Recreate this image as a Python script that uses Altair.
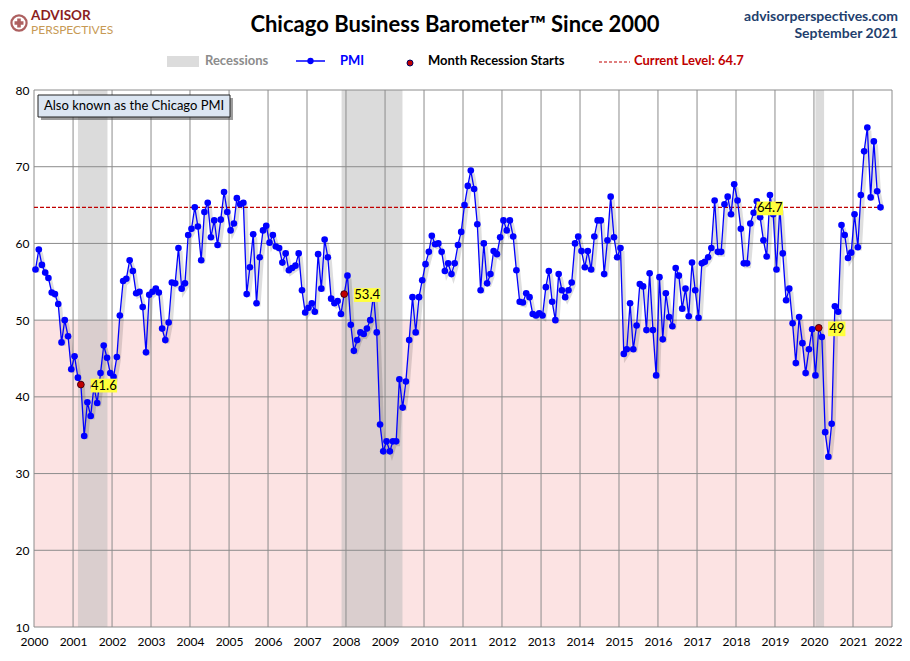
import altair as alt
import pandas as pd

# ---------------- data ----------------
pmi_2000 = [56.6, 59.2, 57.2, 56.2, 55.5, 53.6, 53.4, 52.1, 47.1, 50.0, 47.9, 43.6]
pmi_2001 = [45.3, 42.5, 41.6, 34.9, 39.3, 37.5, 41.3, 39.2, 43.1, 46.7, 45.1, 43.1]
pmi_2002 = [42.6, 45.2, 50.6, 55.1, 55.4, 57.8, 56.4, 53.5, 53.7, 51.7, 45.8, 53.3]
pmi_2003 = [53.7, 54.1, 53.6, 48.9, 47.4, 49.7, 54.9, 54.8, 59.4, 54.1, 54.8, 61.1]
pmi_2004 = [61.9, 64.7, 62.2, 57.8, 64.1, 65.3, 60.8, 63.0, 59.8, 63.1, 66.7, 64.1]
pmi_2005 = [61.7, 62.6, 65.9, 65.1, 65.3, 53.4, 56.9, 61.2, 52.2, 58.2, 61.7, 62.3]
pmi_2006 = [60.1, 61.1, 59.6, 59.4, 57.5, 58.7, 56.5, 56.8, 57.1, 58.7, 53.9, 51.0]
pmi_2007 = [51.6, 52.2, 51.1, 58.6, 54.1, 60.5, 58.2, 52.8, 52.2, 52.5, 50.8, 53.4]
pmi_2008 = [55.8, 49.4, 46.0, 47.4, 48.4, 48.2, 48.9, 50.0, 53.3, 48.4, 36.4, 32.9]
pmi_2009 = [34.2, 32.9, 34.2, 34.2, 42.3, 38.6, 42.0, 47.4, 53.0, 48.4, 53.0, 55.2]
pmi_2010 = [57.3, 58.9, 61.0, 59.9, 60.0, 58.9, 56.4, 57.4, 56.0, 57.4, 59.8, 61.5]
pmi_2011 = [65.0, 67.5, 69.5, 67.1, 62.5, 53.9, 60.0, 54.8, 56.0, 59.0, 58.6, 60.8]
pmi_2012 = [63.0, 61.7, 63.0, 60.9, 56.5, 52.4, 52.3, 53.5, 53.0, 50.8, 50.6, 50.9]
pmi_2013 = [50.6, 54.3, 56.4, 52.4, 50.0, 56.0, 53.9, 53.0, 53.9, 54.9, 60.0, 60.9]
pmi_2014 = [59.0, 56.9, 59.0, 56.6, 60.9, 63.0, 63.0, 56.0, 60.4, 66.1, 60.8, 58.2]
pmi_2015 = [59.4, 45.6, 46.2, 52.2, 46.2, 49.3, 54.7, 54.4, 48.7, 56.1, 48.7, 42.8]
pmi_2016 = [55.6, 47.5, 53.5, 50.4, 49.2, 56.8, 55.8, 51.5, 54.1, 50.5, 57.5, 53.9]
pmi_2017 = [50.3, 57.4, 57.6, 58.2, 59.4, 65.6, 58.9, 58.9, 65.1, 66.1, 63.8, 67.7]
pmi_2018 = [65.6, 61.9, 57.4, 57.4, 62.6, 64.0, 65.5, 63.4, 60.4, 58.3, 66.3, 63.8]
pmi_2019 = [56.6, 64.7, 58.7, 52.6, 54.1, 49.6, 44.4, 50.4, 47.0, 43.1, 46.2, 48.8]
pmi_2020 = [42.8, 49.0, 47.8, 35.4, 32.2, 36.5, 51.8, 51.1, 62.4, 61.1, 58.1, 58.8]
pmi_2021 = [63.8, 59.5, 66.3, 72.0, 75.1, 66.0, 73.3, 66.8, 64.7]

pmi_years = [pmi_2000, pmi_2001, pmi_2002, pmi_2003, pmi_2004, pmi_2005, pmi_2006,
             pmi_2007, pmi_2008, pmi_2009, pmi_2010, pmi_2011, pmi_2012, pmi_2013,
             pmi_2014, pmi_2015, pmi_2016, pmi_2017, pmi_2018, pmi_2019, pmi_2020,
             pmi_2021]

recession_start = ["2001-02-16", "2007-11-21", "2020-01-15"]
recession_end = ["2001-11-19", "2009-06-13", "2020-04-05"]
recession_start_months = ["2001-03", "2007-12", "2020-02"]
highlight_month = "2019-02"

current_level = 64.7
tick_years = list(range(2000, 2023))
y_ticks = [10, 20, 30, 40, 50, 60, 70, 80]

title_text = ["Chicago Business Barometer\u2122 Since 2000"]
site_text = ["advisorperspectives.com"]
date_text = ["September 2021"]
note_text = ["Also known as the Chicago PMI"]

# ---------------- tables ----------------
values = [v for yr in pmi_years for v in yr]
months = pd.date_range("2000-01-01", periods=len(values), freq="MS")
mid = months + pd.Timedelta(days=14)
df = pd.DataFrame({"date": mid.strftime("%Y-%m-%dT00:00:00"),
                   "month": months.strftime("%Y-%m"),
                   "pmi": values})

rec_df = pd.DataFrame({"date": [d + "T00:00:00" for d in recession_start],
                       "e": [d + "T00:00:00" for d in recession_end]})
start_df = df[df["month"].isin(recession_start_months)].copy()
start_df["label"] = start_df["pmi"].map(lambda v: f"{v:g}")
hi_df = df[df["month"] == highlight_month].copy()
hi_df["label"] = hi_df["pmi"].map(lambda v: f"{v:g}")

grid_x = pd.DataFrame({"date": [f"{y}-01-01T00:00:00" for y in tick_years]})
grid_y = pd.DataFrame({"pmi": y_ticks})
band_df = pd.DataFrame({"date": ["2000-01-01T00:00:00"], "x1": ["2022-01-01T00:00:00"],
                        "pmi": [10], "y1": [50]})
cur_df = pd.DataFrame({"date": ["2000-01-01T00:00:00"], "x1": [df["date"].iloc[-1]],
                       "pmi": [current_level]})

FONT = "Lato"
x_scale = alt.Scale(domain=[alt.DateTime(year=2000, month=1, date=1),
                            alt.DateTime(year=2022, month=1, date=1)])
y_scale = alt.Scale(domain=[10, 80], nice=False, zero=False)

x_axis = alt.Axis(values=[alt.DateTime(year=y, month=1, date=1) for y in tick_years],
                  format="%Y", grid=False, ticks=False, domain=False, title=None,
                  labelFontSize=12, labelColor="#000000", labelFont=FONT,
                  labelPadding=9, labelFlush=False, labelOverlap=False,
                  labelOffset={"condition": {"test": f"year(datum.value) == {tick_years[-1]}",
                                             "value": -4},
                               "value": 0})
y_axis = alt.Axis(values=y_ticks, grid=False, ticks=False, domain=False, title=None,
                  labelFontSize=12, labelColor="#000000", labelFont=FONT,
                  labelPadding=5)

X = alt.X("date:T", scale=x_scale, axis=x_axis, title=None)
Y = alt.Y("pmi:Q", scale=y_scale, axis=y_axis, title=None)

# ---------------- layers ----------------
band = alt.Chart(band_df).mark_rect(color="#FCE3E3").encode(
    x=X, x2="x1:T", y=Y, y2="y1:Q")

recess = alt.Chart(rec_df).mark_rect(color="#BEBEBE", opacity=0.55).encode(
    x=X, x2="e:T", y=alt.value(0), y2=alt.value(537))

vgrid = alt.Chart(grid_x).mark_rule(color="#8C8C8C", strokeWidth=1).encode(x=X)
hgrid = alt.Chart(grid_y).mark_rule(color="#8C8C8C", strokeWidth=1).encode(y=Y)

cur_line = alt.Chart(cur_df).mark_rule(color="#C00000", strokeDash=[4, 2],
                                       strokeWidth=1.2).encode(x=X, x2="x1:T", y=Y)

base = alt.Chart(df).encode(x=X, y=Y)
shadow = base.mark_line(color="#000000", opacity=0.13, strokeWidth=4,
                        xOffset=2, yOffset=3)
line = base.mark_line(color="#0000FF", strokeWidth=1.3)
pts = base.mark_circle(color="#0000FF", size=44, opacity=1)

red_pts = alt.Chart(start_df).mark_circle(color="#C00000", size=46, opacity=1,
                                          stroke="#3A0000", strokeWidth=0.8).encode(
    x=X, y=Y)

BOX3 = "M-1,-0.52L1,-0.52L1,0.52L-1,0.52Z"
BOX2 = "M-1,-0.85L1,-0.85L1,0.85L-1,0.85Z"


def tag(data, dx, shape, size):
    box = alt.Chart(data).mark_point(shape=shape, size=size, filled=True,
                                     color="#FFFF3C", opacity=1, xOffset=dx,
                                     yOffset=1).encode(x=X, y=Y)
    txt = alt.Chart(data).mark_text(font=FONT, fontSize=13, color="#000000",
                                    xOffset=dx, yOffset=1, baseline="middle",
                                    align="center").encode(x=X, y=Y, text="label:N")
    return [box, txt]


tags = []
long_df = start_df[start_df["label"].str.len() > 2]
short_df = start_df[start_df["label"].str.len() <= 2]
tags += tag(long_df, 23, BOX3, 700)
tags += tag(short_df, 18, BOX2, 300)
tags += tag(hi_df, -10, BOX3, 700)

# ---------------- annotations (pixel positions, relative to plot origin) ----------------
one = pd.DataFrame({"k": [0]})


def text_at(txt_list, x, y, **kw):
    d = pd.DataFrame({"t": txt_list})
    return alt.Chart(d).mark_text(font=FONT, baseline="middle", **kw).encode(
        x=alt.value(x), y=alt.value(y), text="t:N")


title = text_at(title_text, 421, -65, fontSize=22, fontWeight="bold",
                color="#000000", align="center")
site = text_at(site_text, 864, -73, fontSize=14, fontWeight="bold",
               color="#1F3F6E", align="right")
month_lbl = text_at(date_text, 864, -56, fontSize=14, fontWeight="bold",
                    color="#1F3F6E", align="right")

logo_ring = alt.Chart(one).mark_point(shape="circle", size=230, filled=False,
                                      color="#8B1E1E", strokeWidth=2.2).encode(
    x=alt.value(-15), y=alt.value(-67))
logo_star = alt.Chart(one).mark_point(shape="cross", size=80, filled=True,
                                      color="#8B1E1E").encode(
    x=alt.value(-15), y=alt.value(-67))
logo1 = text_at(["ADVISOR"], -3, -74, fontSize=13.5, fontWeight="bold",
                color="#8B1E1E", align="left")
logo2 = text_at(["PERSPECTIVES"], -3, -60, fontSize=12, color="#C79A55",
                align="left")

# legend
leg_rect = alt.Chart(one).mark_rect(color="#DCDCDC").encode(
    x=alt.value(133), x2=alt.value(165), y=alt.value(-34), y2=alt.value(-23))
leg_rec_txt = text_at(["Recessions"], 171, -29, fontSize=13, fontWeight="bold",
                      color="#8C8C8C", align="left")
leg_line = alt.Chart(one).mark_rule(color="#0000FF", strokeWidth=1.5).encode(
    x=alt.value(262), x2=alt.value(291), y=alt.value(-29))
leg_dot = alt.Chart(one).mark_circle(color="#0000FF", size=40, opacity=1).encode(
    x=alt.value(276.5), y=alt.value(-29))
leg_pmi = text_at(["PMI"], 306, -29, fontSize=13, fontWeight="bold",
                  color="#0000FF", align="left")
leg_red = alt.Chart(one).mark_circle(color="#C00000", size=36, opacity=1,
                                     stroke="#000060", strokeWidth=1).encode(
    x=alt.value(376), y=alt.value(-27))
leg_red_txt = text_at(["Month Recession Starts"], 394, -29, fontSize=13,
                      fontWeight="bold", color="#000000", align="left")
leg_cur = alt.Chart(one).mark_rule(color="#C00000", strokeDash=[3, 2],
                                   strokeWidth=1.2).encode(
    x=alt.value(565), x2=alt.value(596), y=alt.value(-28))
leg_cur_txt = text_at([f"Current Level: {current_level:g}"], 600, -29, fontSize=13,
                      fontWeight="bold", color="#C00000", align="left")

# note box
note_shadow = alt.Chart(one).mark_rect(color="#4A4A4A", opacity=0.55).encode(
    x=alt.value(7), x2=alt.value(199), y=alt.value(8), y2=alt.value(30))
note_box = alt.Chart(one).mark_rect(color="#DCE6F2", stroke="#222222",
                                    strokeWidth=1).encode(
    x=alt.value(4), x2=alt.value(196), y=alt.value(5), y2=alt.value(27))
note_txt = text_at(note_text, 10, 16, fontSize=13, color="#000000", align="left")

chart = alt.layer(
    band, recess, vgrid, hgrid, cur_line, shadow, line, pts, red_pts, *tags,
    title, site, month_lbl, logo_ring, logo_star, logo1, logo2,
    leg_rect, leg_rec_txt, leg_line, leg_dot, leg_pmi, leg_red, leg_red_txt,
    leg_cur, leg_cur_txt, note_shadow, note_box, note_txt,
).properties(
    width=858, height=537,
    autosize=alt.AutoSizeParams(type="none"),
    padding={"left": 26, "top": 82, "right": 10, "bottom": 26},
    background="#FFFFFF",
).configure_view(stroke=None)

chart.save("out.html", embed_options={"renderer": "svg", "actions": False})
